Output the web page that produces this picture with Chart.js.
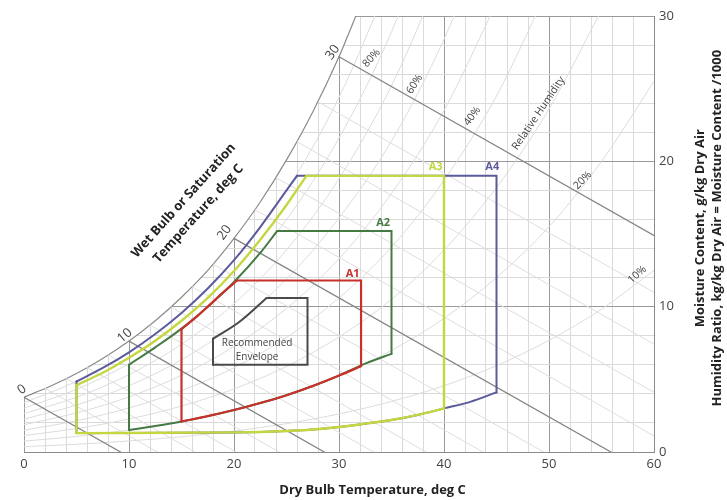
<!DOCTYPE html>
<html lang="en">
<head>
<meta charset="UTF-8">
<title>Psychrometric chart - ASHRAE envelopes</title>
<script src="https://cdn.jsdelivr.net/npm/chart.js"></script>
<style>
  html, body { margin: 0; padding: 0; background: #fff; }
  #wrap { width: 727px; height: 500px; }
</style>
</head>
<body>
<div id="wrap"><canvas id="psy-chart"></canvas></div>
<script>
// dry bulb (deg C) / moisture content (g/kg)

// saturation curve
const satT = [0, 2.5, 5, 7.5, 10, 12.5, 15, 17.5, 20, 22.5, 25, 27.5, 30, 32];
const satW = [3.77, 4.52, 5.40, 6.43, 7.63, 9.03, 10.65, 12.5, 14.7, 17.2, 20.1, 23.4, 27.2, 30.7];

// relative humidity curves, sampled every 5 deg C from 0
const rhT = [0, 5, 10, 15, 20, 25, 30, 35, 40, 45, 50, 55, 60];
const rh90 = [3.39, 4.86, 6.86, 9.57, 13.2, 18.0, 24.4, 32.7];
const rh80 = [3.02, 4.31, 6.09, 8.49, 11.7, 16.0, 21.6, 28.9, 38.5];
const rh70 = [2.64, 3.77, 5.32, 7.42, 10.2, 13.9, 18.8, 25.2, 33.4];
const rh60 = [2.26, 3.23, 4.56, 6.35, 8.73, 11.9, 16.1, 21.4, 28.4, 37.4];
const rh50 = [1.88, 2.69, 3.79, 5.28, 7.27, 9.88, 13.3, 17.8, 23.5, 30.9];
const rh40 = [1.50, 2.15, 3.03, 4.22, 5.80, 7.88, 10.6, 14.1, 18.7, 24.5, 32.0];
const rh30 = [1.13, 1.61, 2.27, 3.16, 4.34, 5.89, 7.92, 10.5, 13.9, 18.2, 23.6, 30.4];
const rh20 = [0.75, 1.07, 1.51, 2.10, 2.89, 3.91, 5.26, 6.99, 9.20, 12.0, 15.5, 20.0, 25.5];
const rh10 = [0.37, 0.53, 0.76, 1.05, 1.44, 1.95, 2.62, 3.48, 4.56, 5.94, 7.68, 9.83, 12.5];

// wet bulb lines: start on saturation curve, run down to zero moisture
const wbT = [0, 2, 4, 6, 8, 10, 12, 14, 16, 18, 20, 22, 24, 26, 28, 30];
const wbSatW = [3.77, 4.38, 5.06, 5.82, 6.68, 7.63, 8.73, 9.98, 11.37, 12.93, 14.7, 16.67, 18.88, 21.35, 24.1, 27.2];
const wbZeroT = [9.2, 12.7, 16.3, 20.2, 24.3, 28.6, 33.3, 38.3, 43.7, 49.5, 55.9, 62.7, 70.0, 78.1, 86.8, 96.3];

// envelopes (closed outlines)
const recT = [18, 27, 27, 23.1, 20.5, 18, 18];
const recW = [6.0, 6.0, 10.6, 10.6, 8.95, 7.8, 6.0];

const a1T = [15, 15, 16.5, 17.5, 19, 20.3, 32.1, 32.1, 30, 27.5, 25, 22.5, 20, 17.5, 15];
const a1W = [2.10, 8.45, 9.35, 10.0, 11.0, 11.8, 11.8, 5.9, 5.26, 4.54, 3.91, 3.37, 2.89, 2.47, 2.10];

const a2T = [10, 10, 12.5, 15, 17.5, 20, 22.5, 24.1, 35, 35, 32.5, 30, 27.5, 25, 22.5, 20, 17.5, 15, 12.5, 10];
const a2W = [1.51, 6.0, 7.2, 8.49, 10.0, 11.7, 13.7, 15.2, 15.2, 6.75, 6.08, 5.26, 4.54, 3.91, 3.37, 2.89, 2.47, 2.10, 1.79, 1.51];

const a3T = [5, 5, 7.5, 10, 12.5, 15, 17.5, 20, 22.5, 25, 26.9, 40, 40, 37.5, 35, 32.5, 30, 27.5, 25, 20, 5];
const a3W = [1.3, 4.6, 5.45, 6.48, 7.66, 9.03, 10.6, 12.45, 14.6, 17.0, 19.0, 19.0, 3.0, 2.55, 2.2, 1.95, 1.72, 1.55, 1.45, 1.35, 1.3];

const a4T = [5, 5, 7.5, 10, 12.5, 15, 17.5, 20, 22.5, 25, 26, 45, 45, 42.5, 40, 37.5, 35, 32.5, 30, 27.5, 25, 20, 5];
const a4W = [1.3, 4.85, 5.78, 6.86, 8.12, 9.57, 11.25, 13.2, 15.48, 18.0, 19.0, 19.0, 4.1, 3.45, 3.0, 2.55, 2.2, 1.95, 1.72, 1.55, 1.45, 1.35, 1.3];

const xTicks = [0, 10, 20, 30, 40, 50, 60];
const yTicks = [0, 10, 20, 30];

const pts = (xs, ys) => ys.map((w, i) => ({x: xs[i], y: w}));
const line = (data, color, width, order, extra) => Object.assign({
    data: data, showLine: true, pointRadius: 0, borderColor: color,
    borderWidth: width, fill: false, tension: 0, order: order,
    borderCapStyle: 'round', borderJoinStyle: 'miter'
}, extra || {});

// outline split into straight parts and curved parts (index ranges that follow a humidity curve)
function outline(xs, ys, curved, color, width, order) {
    const out = [];
    let start = 0;
    const piece = (a, b, smooth) => {
        let p = pts(xs.slice(a, b + 1), ys.slice(a, b + 1));
        if (smooth && p[0].x > p[p.length - 1].x) p = p.reverse();
        out.push(line(p, color, width, order, smooth ? {cubicInterpolationMode: 'monotone'} : {}));
    };
    curved.forEach(([a, b]) => {
        if (a > start) piece(start, a, false);
        piece(a, b, true);
        start = b;
    });
    if (start < xs.length - 1) piece(start, xs.length - 1, false);
    return out;
}

const datasets = [];
// white above saturation hides grid there
datasets.push(line(pts(satT, satW), '#8a8a8a', 1.2, 100,
    {fill: 'end', backgroundColor: '#ffffff', cubicInterpolationMode: 'monotone'}));
[rh10, rh20, rh30, rh40, rh50, rh60, rh70, rh80, rh90].forEach(r => {
    datasets.push(line(pts(rhT, r), '#dcdcdc', 1, 60, {cubicInterpolationMode: 'monotone'}));
});
wbT.forEach((t, i) => {
    const major = t % 10 === 0;
    datasets.push(line([{x: t, y: wbSatW[i]}, {x: wbZeroT[i], y: 0}],
        major ? '#858585' : '#dedede', major ? 1.3 : 1, major ? 40 : 55));
});
datasets.push(...outline(a4T, a4W, [[1, 10], [12, 22]], '#5b5a9c', 2, 9));
datasets.push(...outline(a3T, a3W, [[1, 10], [12, 20]], '#c4d640', 2.4, 8));
datasets.push(...outline(a2T, a2W, [[1, 7], [9, 19]], '#457a45', 2, 7));
datasets.push(...outline(a1T, a1W, [[1, 5], [7, 14]], '#c8302b', 2.2, 6));
datasets.push(...outline(recT, recW, [[3, 5]], '#4a4a4a', 2, 5));

const annotate = {
    id: 'annotate',
    afterDraw(chart) {
        const {ctx, chartArea, scales: {x, y}} = chart;
        const put = (text, t, w, deg, font, color) => {
            ctx.save();
            ctx.translate(x.getPixelForValue(t), y.getPixelForValue(w));
            ctx.rotate(deg * Math.PI / 180);
            ctx.font = font;
            ctx.fillStyle = color;
            ctx.textAlign = 'center';
            ctx.textBaseline = 'middle';
            ctx.fillText(text, 0, 0);
            ctx.restore();
        };
        const ff = '"Open Sans", sans-serif';
        // saturation temperature labels
        put('0', -0.2, 4.3, -35, '13px ' + ff, '#444');
        put('10', 9.6, 8.0, -40, '13px ' + ff, '#444');
        put('20', 19.1, 15.1, -55, '13px ' + ff, '#444');
        put('30', 29.4, 27.5, -55, '13px ' + ff, '#444');
        // rh labels
        put('80%', 33.1, 27.1, -47, '10.5px ' + ff, '#444');
        put('60%', 37.2, 25.3, -57, '10.5px ' + ff, '#444');
        put('40%', 42.7, 23.1, -53, '10.5px ' + ff, '#444');
        put('20%', 53.2, 18.7, -45, '10.5px ' + ff, '#444');
        put('10%', 58.4, 12.2, -42, '10.5px ' + ff, '#444');
        put('Relative Humidity', 49.0, 23.3, -56, '10.5px ' + ff, '#444');
        // envelope labels
        put('A1', 31.3, 12.25, 0, 'bold 11px ' + ff, '#c8302b');
        put('A2', 34.2, 15.8, 0, 'bold 11px ' + ff, '#457a45');
        put('A3', 39.2, 19.6, 0, 'bold 11px ' + ff, '#c4d640');
        put('A4', 44.6, 19.6, 0, 'bold 11px ' + ff, '#5b5a9c');
        put('Recommended', 22.2, 7.5, 0, '10px ' + ff, '#444');
        put('Envelope', 22.2, 6.5, 0, '10px ' + ff, '#444');
        // wet bulb title
        put('Wet Bulb or Saturation', 15.2, 17.3, -48, 'bold 13px ' + ff, '#222');
        put('Temperature, deg C', 16.6, 16.4, -48, 'bold 13px ' + ff, '#222');
        // axis titles
        ctx.save();
        ctx.font = 'bold 13px ' + ff;
        ctx.fillStyle = '#222';
        ctx.textAlign = 'center';
        ctx.textBaseline = 'middle';
        ctx.fillText('Dry Bulb Temperature, deg C', x.getPixelForValue(33.2), chartArea.bottom + 38);
        ctx.translate(chartArea.right + 46, y.getPixelForValue(15.4));
        ctx.rotate(-Math.PI / 2);
        ctx.fillText('Moisture Content, g/kg Dry Air', 0, 0);
        ctx.fillText('Humidity Ratio, kg/kg Dry Air = Moisture Content /1000', 0, 17);
        ctx.restore();
    }
};

new Chart(document.getElementById('psy-chart'), {
    type: 'scatter',
    data: {datasets: datasets},
    options: {
        responsive: true,
        maintainAspectRatio: false,
        animation: false,
        layout: {padding: {left: 24, top: 16, right: 0, bottom: 0}},
        plugins: {legend: {display: false}, tooltip: {enabled: false}},
        scales: {
            x: {
                type: 'linear', min: 0, max: 60,
                afterFit: s => { s.height = 48; },
                afterBuildTicks: s => { s.ticks = []; for (let v = 0; v <= 60; v += 2) s.ticks.push({value: v}); },
                grid: {
                    drawTicks: false,
                    color: c => xTicks.includes(c.tick.value) ? '#9a9a9a' : '#dadada',
                    lineWidth: 1
                },
                border: {color: '#8a8a8a'},
                ticks: {
                    autoSkip: false, maxRotation: 0, padding: 4,
                    color: '#444', font: {family: '"Open Sans", sans-serif', size: 13},
                    callback: v => xTicks.includes(v) ? String(v) : ''
                }
            },
            y: {
                type: 'linear', position: 'right', min: 0, max: 30,
                afterFit: s => { s.width = 73; },
                afterBuildTicks: s => { s.ticks = []; for (let v = 0; v <= 30; v += 2) s.ticks.push({value: v}); },
                grid: {
                    drawTicks: false,
                    color: c => yTicks.includes(c.tick.value) ? '#9a9a9a' : '#dadada',
                    lineWidth: 1
                },
                border: {color: '#8a8a8a'},
                ticks: {
                    autoSkip: false, padding: 5,
                    color: '#444', font: {family: '"Open Sans", sans-serif', size: 13},
                    callback: v => yTicks.includes(v) ? String(v) : ''
                }
            }
        }
    },
    plugins: [annotate]
});
</script>
</body>
</html>
